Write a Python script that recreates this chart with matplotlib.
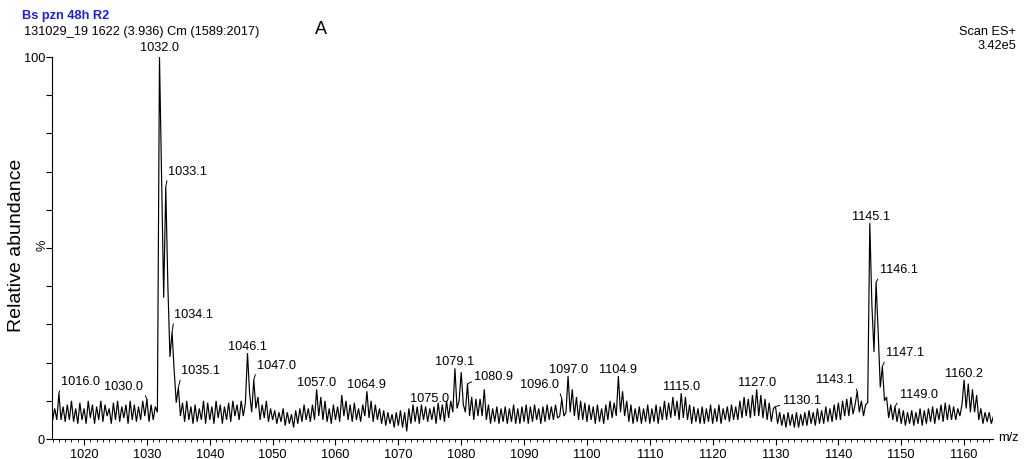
import numpy as np
import matplotlib
matplotlib.use("Agg")
import matplotlib.pyplot as plt
from matplotlib.ticker import MultipleLocator, FixedLocator

plt.rcParams['font.family'] = ['Liberation Sans', 'DejaVu Sans']

# ---------------- data ----------------
# profile sampled every 1/3 m/z unit, starting at 1015.0
mz_start = 1015.0
points_per_unit = 3
intensity = [
    5, 8, 5, 12, 5, 8.5, 4.5, 9, 5, 10, 4.5, 8,                 # 1015
    4, 9.5, 5, 8, 4, 10, 5.5, 9, 4, 8.5, 5, 10,                 # 1019
    4.5, 9, 6, 8, 4, 9.5, 5, 10, 4.5, 8.5, 5.5, 9,              # 1023
    4, 10, 5, 9, 4.5, 8.5, 5, 10, 6, 10.5, 4.5, 9,              # 1027
    5, 8.5, 7, 100, 68, 37, 66, 40, 21.5, 28, 18, 9.5,          # 1031
    13.5, 6, 9.5, 4.5, 10, 5, 8.5, 4, 9, 4.5, 8, 5,             # 1035
    10, 4, 9.5, 5, 8.5, 4, 10, 5.5, 9, 4, 8.5, 5,               # 1039
    9.5, 4.5, 10, 6, 9, 5, 10, 6, 9.5, 22.5, 12, 7,             # 1043
    15.5, 8, 11, 5, 9, 5.5, 10, 4.5, 8, 5, 7.5, 4,              # 1047
    7, 4.5, 8, 3.5, 7, 4, 6.5, 3, 7.5, 4, 8, 4.5,               # 1051
    9, 5, 8, 4.5, 9, 5, 13, 6, 11, 5, 10, 4.5,                  # 1055
    8, 4, 9, 5, 8.5, 4.5, 11.5, 6, 10, 5, 9, 4.5,               # 1059
    9.5, 5, 8, 4.5, 9, 6, 12.5, 5.5, 10, 4.5, 9, 5,             # 1063
    8, 4, 7.5, 3.5, 7, 4, 6.5, 3, 7, 3.5, 7.5, 3,               # 1067
    7, 2, 8, 4, 9, 4.5, 8.5, 4, 9, 5, 8.5, 4.5,                 # 1071
    8, 5, 8.5, 4, 9.5, 5, 9, 4.5, 10, 5.5, 10, 7,               # 1075
    18.5, 8, 10, 17.5, 9, 7, 14.5, 6, 11, 5, 10.5, 6,           # 1079
    10.5, 6, 13, 5, 9, 4, 8, 4.5, 8.5, 4, 8, 4.5,               # 1083
    8.5, 4, 8, 4.5, 9, 4, 8, 4, 8.5, 4.5, 9, 4,                 # 1087
    8.5, 4.5, 9, 5, 8, 4, 8.5, 4.5, 9, 5, 8.5, 5,               # 1091
    9, 5.5, 6, 10.5, 6, 7, 16.5, 7, 13, 6, 11, 5,               # 1095
    10, 5, 9.5, 4.5, 9, 5, 8.5, 4, 9, 4.5, 8, 4,                # 1099
    9, 5, 10, 5.5, 9.5, 6, 16.5, 7, 12.5, 6, 10, 4.5,           # 1103
    9, 4, 8, 4.5, 8.5, 4, 8, 4.5, 9, 4, 8, 4.5,                 # 1107
    9, 4, 8.5, 5, 10, 5, 9.5, 5.5, 11, 6, 10, 5,                # 1111
    12, 5.5, 11, 5, 9, 4, 8.5, 4.5, 8, 4, 8.5, 4,               # 1115
    8, 4.5, 9, 4, 8, 4.5, 9, 4, 8, 5, 8.5, 4.5,                 # 1119
    9, 5, 8.5, 5, 10, 5.5, 11, 6, 10.5, 5.5, 11.5, 6,           # 1123
    13, 6, 11.5, 5.5, 10.5, 5, 9.5, 4.5, 8, 8.5, 4, 7,          # 1127
    3.5, 6.5, 3, 7, 3.5, 6.5, 3, 7, 3, 6.5, 3.5, 7,             # 1131
    3.5, 7.5, 4, 7, 3.5, 8, 4, 7.5, 4, 8.5, 4.5, 8,             # 1135
    4.5, 9, 5, 9.5, 5, 10, 6, 10.5, 6, 11, 6.5, 9,              # 1139
    12.5, 7, 10, 6, 9, 9.5, 56.5, 35, 22.8, 41, 28, 13.5,       # 1143
    19, 10, 11, 5.5, 9, 5, 8.5, 4.5, 8, 4, 7.5, 3.5,            # 1147
    7, 4, 7.5, 3.5, 7, 4, 8, 3.5, 7.5, 4, 8, 4.5,               # 1151
    8.5, 4, 8, 5, 9, 4.5, 9.5, 5, 9, 5, 8.5, 5,                 # 1155
    8, 6, 9, 15.5, 8, 14.5, 7, 13, 7, 11.5, 5, 8,               # 1159
    4, 7, 4.5, 7, 4, 6,                                         # 1163
]

label_texts = ["1016.0", "1030.0", "1032.0", "1033.1", "1034.1", "1035.1",
               "1046.1", "1047.0", "1057.0", "1064.9", "1075.0", "1079.1",
               "1080.9", "1096.0", "1097.0", "1104.9", "1115.0", "1127.0",
               "1130.1", "1143.1", "1145.1", "1146.1", "1147.1", "1149.0",
               "1160.2"]

# ---------------- styles for label placement ----------------
# mode: 'c' centred above, 'r' text to the right with leader, 'l' text to the left with leader
label_style = {
    "1016.0": ('r', 2, 5), "1030.0": ('l', -4, 6), "1032.0": ('c', 0, 3),
    "1033.1": ('r', 2, 9), "1034.1": ('r', 2, 11), "1035.1": ('r', 3, 10),
    "1046.1": ('c', 0, 0), "1047.0": ('r', 3, 8), "1057.0": ('c', 0, 0),
    "1064.9": ('c', 0, 0), "1075.0": ('c', 0, 3), "1079.1": ('c', 0, 0),
    "1080.9": ('r', 7, 1), "1096.0": ('l', -3, 8), "1097.0": ('c', 0, 0),
    "1104.9": ('c', 0, 0), "1115.0": ('c', 0, 0), "1127.0": ('c', 0, 0),
    "1130.1": ('r', 7, 0), "1143.1": ('l', -3, 5), "1145.1": ('c', 1, 0),
    "1146.1": ('r', 4, 6), "1147.1": ('r', 4, 7), "1149.0": ('r', 5, 6),
    "1160.2": ('c', 0, 0),
}

W, H = 1027, 459
fig = plt.figure(figsize=(W / 100, H / 100), dpi=100)
ax = fig.add_axes([52 / W, 1 - 439 / H, (993 - 52) / W, (439 - 57) / H])

inten = np.array(intensity, dtype=float)
mz = mz_start + np.arange(len(inten)) / points_per_unit
ax.plot(mz, inten, color='black', lw=0.85, solid_joinstyle='miter')

ax.set_xlim(1014.9, 1164.6)
ax.set_ylim(0, 100)

for s in ['top', 'right']:
    ax.spines[s].set_visible(False)
for s in ['left', 'bottom']:
    ax.spines[s].set_linewidth(0.8)

ax.xaxis.set_major_locator(MultipleLocator(10))
ax.xaxis.set_minor_locator(MultipleLocator(1))
ax.yaxis.set_major_locator(FixedLocator([0, 100]))
ax.yaxis.set_minor_locator(MultipleLocator(10))
ax.tick_params(axis='x', which='major', length=4, width=0.8, pad=3, labelsize=9.2)
ax.tick_params(axis='x', which='minor', length=2.5, width=0.6)
ax.tick_params(axis='y', which='both', length=4, width=0.8, pad=1, labelsize=9.2)
ax.yaxis.set_major_formatter(matplotlib.ticker.FuncFormatter(lambda v, p: f"{int(v)}"))

fs = 9.2
for t in label_texts:
    v = float(t)
    near = np.where(np.abs(mz - v) <= 0.3)[0]
    i = int(near[np.argmax(inten[near])])
    mode, dx, dy = label_style[t]
    xy = (mz[i], inten[i])
    if mode == 'c':
        ax.annotate(t, xy=xy, xytext=(dx, dy), textcoords='offset pixels',
                    ha='center', va='bottom', fontsize=fs, annotation_clip=False)
    else:
        ha = 'left' if mode == 'r' else 'right'
        rel = (0, 0.15) if mode == 'r' else (1, 0.15)
        ax.annotate(t, xy=xy, xytext=(dx, dy), textcoords='offset pixels',
                    ha=ha, va='bottom', fontsize=fs, annotation_clip=False,
                    arrowprops=dict(arrowstyle='-', lw=0.7, color='black',
                                    shrinkA=0, shrinkB=0, relpos=rel))

def ftext(x, y, s, **kw):
    fig.text(x / W, 1 - y / H, s, **kw)

ftext(22, 16, "Bs pzn 48h R2", color='#1a1aff', fontweight='bold', fontsize=9.2,
      ha='left', va='center')
ftext(24, 32, "131029_19 1622 (3.936) Cm (1589:2017)", fontsize=9.2, ha='left', va='center')
ftext(321, 30, "A", fontsize=13, ha='center', va='center')
ftext(1016, 32, "Scan ES+", fontsize=9.2, ha='right', va='center')
ftext(1016, 46, "3.42e5", fontsize=9.2, ha='right', va='center')
ftext(998, 438, "m/z", fontsize=9.2, ha='left', va='center')
ftext(42, 245, "%", fontsize=9.2, ha='center', va='center', rotation=90)
ftext(17, 245, "Relative abundance", fontsize=14, ha='center', va='center', rotation=90)

fig.savefig("out.png", dpi=100)
